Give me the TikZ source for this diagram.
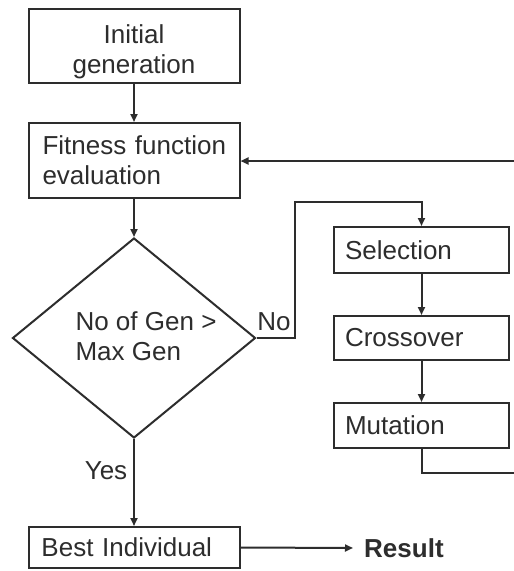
\documentclass[tikz,border=0pt]{standalone}
\usepackage{fontspec}
\setmainfont{Liberation Sans}
\usetikzlibrary{shapes.geometric,arrows.meta}
\definecolor{linec}{RGB}{45,45,45}
\definecolor{txtc}{RGB}{45,45,45}
\begin{document}
\begin{tikzpicture}[x=1pt,y=-1pt,
  txt/.style={text=txtc, font=\fontsize{26}{30}\selectfont},
  box/.style={txt, draw=linec, line width=2pt, rectangle, inner ysep=0pt},
  conn/.style={draw=linec, line width=2pt},
  arr/.style={conn, -{Triangle[length=8pt,width=7pt]}},
]
\useasboundingbox[fill=white] (0,0) rectangle (514,571);

\node[box, align=center, minimum width=211pt, minimum height=74pt] (init) at (134,46) {\rule{0pt}{30pt}Initial\\generation};
\node[box, align=left, inner xsep=14pt, text width=183pt, minimum width=211pt, minimum height=75pt] (fit) at (134,160.5) {\mbox{Fitness function}\\evaluation};
\node[draw=linec, line width=2pt, diamond, inner sep=0pt, minimum width=243pt, minimum height=200pt] (dia) at (134,338) {};
\node[txt, align=left, inner sep=0pt] (dtext) at (146,336) {No of Gen >\\Max Gen};

\node[box, align=left, inner xsep=11pt, text width=153pt, minimum width=175pt, minimum height=46pt] (sel) at (421.5,250) {Selection};
\node[box, align=left, inner xsep=11pt, text width=153pt, minimum width=175pt, minimum height=44pt] (cro) at (421.5,338) {Crossover};
\node[box, align=left, inner xsep=11pt, text width=153pt, minimum width=175pt, minimum height=45pt] (mut) at (421.5,425.5) {Mutation};

\node[box, align=left, inner xsep=13pt, text width=185pt, minimum width=211pt, minimum height=41pt] (best) at (134,547.5) {Best Individual};
\node[txt, font=\fontsize{26}{30}\selectfont\bfseries, inner xsep=11pt, anchor=west] (res) at (353,548) {Result};

\node[txt, inner sep=0pt] (nolab) at (274,322) {No};
\node[txt, inner sep=0pt] (yeslab) at (106,471) {Yes};

\coordinate (c1) at (295,338);
\coordinate (c2) at (295,202);
\coordinate (c3) at (421.5,202);
\coordinate (m1) at (421.5,473);
\coordinate (m2) at (530,473);
\coordinate (m3) at (530,161);

\draw[arr] (init.south) -- (fit.north);
\draw[arr] (fit.south) -- (dia.north);
\draw[arr] (dia.east) -- (c1) -- (c2) -- (c3) -- (sel.north);
\draw[arr] (sel.south) -- (cro.north);
\draw[arr] (cro.south) -- (mut.north);
\draw[arr] (mut.south) -- (m1) -- (m2) -- (m3) -- (fit.east |- m3);
\draw[arr] (dia.south) -- (best.north);
\draw[arr] (best.east) -- (res.west);
\end{tikzpicture}
\end{document}
